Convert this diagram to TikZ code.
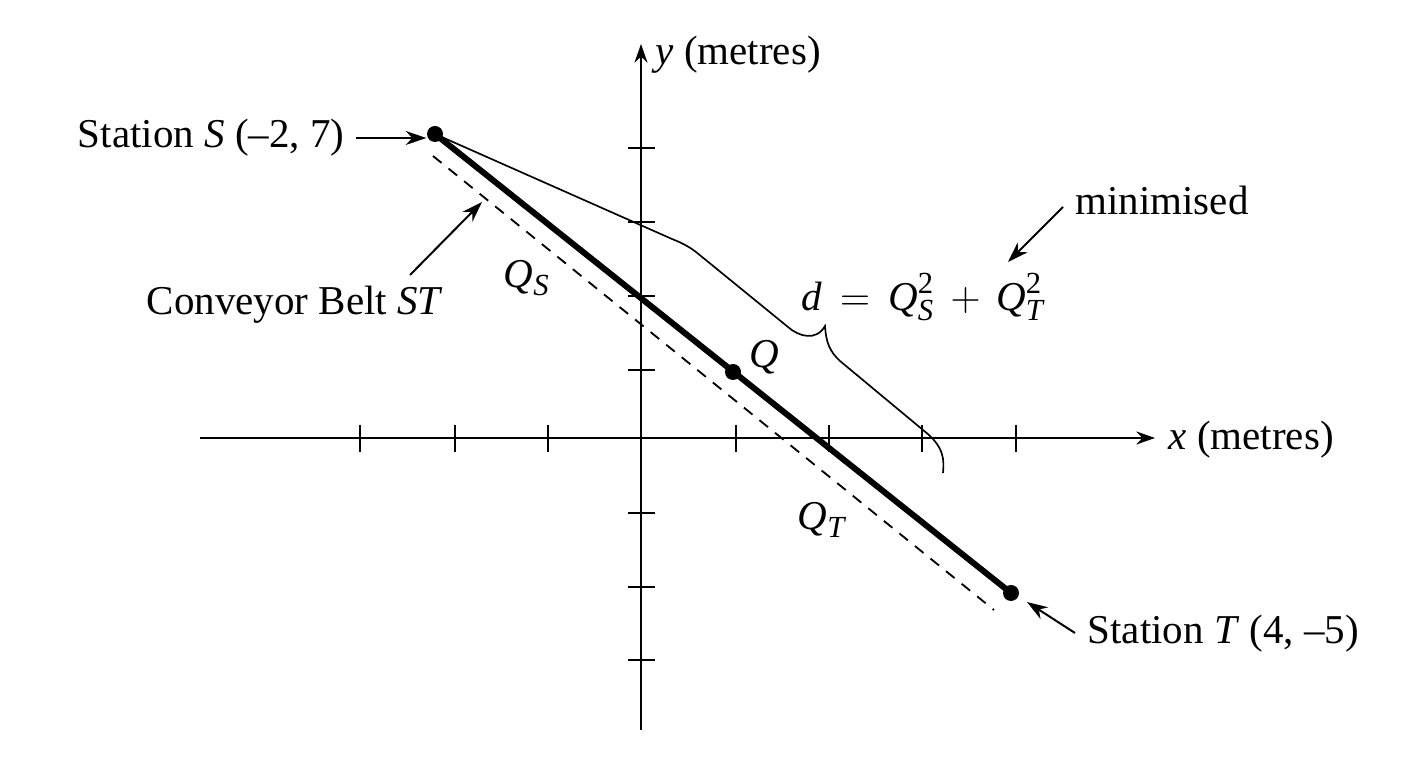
\documentclass[tikz,border=0pt]{standalone}
\usepackage{amsmath}
\usepackage{fontspec}
\setmainfont{Liberation Serif}
\DeclareMathSizes{12.3}{12.3}{9.2}{7}
\usetikzlibrary{arrows.meta}
\begin{document}
\begin{tikzpicture}[x=0.3pt,y=-0.3pt,
  every node/.style={font=\fontsize{12.3}{14}\selectfont, inner sep=0pt},
  axisline/.style={line width=0.6pt,-{Stealth[length=5.6pt,width=3.9pt]}},
  tickmark/.style={line width=0.6pt},
  ann/.style={line width=0.6pt,-{Stealth[length=6.2pt,width=4.2pt]}},
  belt/.style={line width=1.8pt},
  stationdot/.style={circle,fill=black,minimum size=4.8pt,inner sep=0pt},
  guide/.style={line width=0.55pt,dash pattern=on 3.3pt off 2.7pt},
  thinline/.style={line width=0.5pt}
]
\useasboundingbox (0,0) rectangle (1408,768);

% axes
\coordinate (xL) at (200,438);
\coordinate (xR) at (1155,438);
\coordinate (yB) at (641,730);
\coordinate (yT) at (641,44);
\draw[axisline] (xL) -- (xR);
\draw[axisline] (yB) -- (yT);
\foreach \x in {360,455,548,736,829,922,1016} \draw[tickmark] (\x,425) -- (\x,452);
\foreach \y in {148,222,296,370,513,587,660} \draw[tickmark] (628,\y) -- (655,\y);
\node[anchor=west] (xlab) at (1168,440) {\textit{x} (metres)};
\node[anchor=west] (ylab) at (655,55) {\textit{y} (metres)};

% stations and belt
\node[stationdot] (S) at (435,134) {};
\node[stationdot] (T) at (1011,593) {};
\node[stationdot] (Q) at (733,372) {};
\draw[belt] (S.center) -- (T.center);
\coordinate (D1) at (433,156);
\coordinate (D2) at (994,610);
\draw[guide] (D1) -- (D2);

% brace
\draw[thinline] (S) -- (672,239) .. controls (682,243) and (688,246) .. (696,252)
  -- (788,327) .. controls (798,336) and (816,342) .. (825,326)
  .. controls (826,341) and (829,351) .. (840,361)
  -- (923,430) .. controls (945,447) and (944,460) .. (943,473);

% labels
\node[anchor=east] (Slab) at (345,138) {Station \textit{S} (--2, 7)};
\draw[ann] ([xshift=3.3pt]Slab.east) -- (S.west |- Slab.east);

\node (conv) at (295,305) {Conveyor Belt \textit{ST}};
\coordinate (convtail) at (410,275);
\coordinate (convtip) at (482,202);
\draw[ann] (convtail) -- (convtip);

\node (QS) at (527,278) {$\textit{Q}_{\textit{S}}$};
\node (Qlab) at (764,357) {\textit{Q}};
\node (QT) at (822,520) {$\textit{Q}_{\textit{T}}$};
\node[anchor=west] (dlab) at (801,297) {$\textit{d}\,=\,\textit{Q}^{\text{2}}_{\textit{S}}\,+\,\textit{Q}^{\text{2}}_{\textit{T}}$};

\node (minlab) at (1162,200) {minimised};
\coordinate (mintail) at (1063,207);
\coordinate (mintip) at (1008,262);
\draw[ann] (mintail) -- (mintip);

\node[anchor=west] (Tlab) at (1087,634) {Station \textit{T} (4, --5)};
\coordinate (Ttail) at (1075,633);
\coordinate (Ttip) at (1027,602);
\draw[ann] (Ttail) -- (Ttip);
\end{tikzpicture}
\end{document}
